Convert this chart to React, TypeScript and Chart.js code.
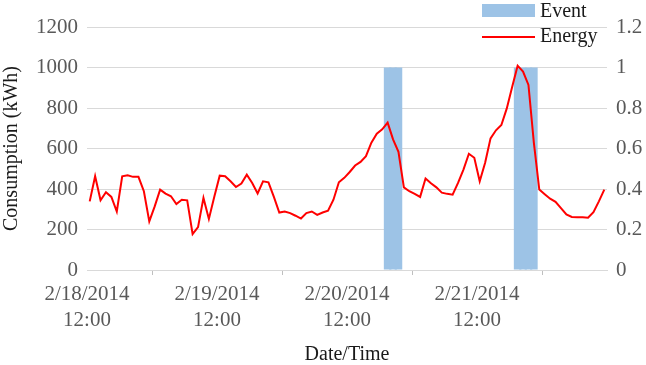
import React, { useEffect, useRef } from 'react';
import { Chart, registerables } from 'chart.js';

Chart.register(...registerables);

// Hourly energy consumption (kWh), starting 2/18/2014 12:00
const energy = [
  339, 463, 344, 384, 361, 289, 463, 468, 460, 460, 389, 240,
  314, 397, 377, 364, 326, 347, 344, 177, 212, 356, 252, 362,
  466, 463, 438, 410, 427, 471, 430, 378, 438, 433, 361, 284,
  289, 281, 268, 254, 281, 289, 272, 284, 293, 347, 433, 455,
  484, 516, 534, 562, 629, 673, 695, 728, 645, 584, 408, 389,
  376, 361, 452, 428, 408, 382, 376, 372, 430, 496, 574, 554,
  438, 530, 650, 690, 716, 798, 905, 1009, 980, 914, 628, 397,
  374, 352, 337, 306, 274, 262, 260, 260, 258, 286, 339, 397,
];

// Hours (index into energy) flagged as demand-response events
const eventHours = [55, 56, 57, 79, 80, 81, 82];
const eventLevel = 1;

const seriesNames = ['Event', 'Energy'];
const dayTickLabels = [
  ['2/18/2014', '12:00'],
  ['2/19/2014', '12:00'],
  ['2/20/2014', '12:00'],
  ['2/21/2014', '12:00'],
];
const hoursPerDay = 24;
const leftTitle = 'Consumption (kWh)';
const bottomTitle = 'Date/Time';

const categories = energy.map((_, i) => {
  const day = 18 + Math.floor((12 + i) / 24);
  const hour = (12 + i) % 24;
  return `2/${day}/2014 ${hour}:00`;
});
const eventData = categories.map((_, i) => (eventHours.includes(i) ? eventLevel : null));

const FONT = '"Liberation Serif", "Times New Roman", serif';
const lineColor = '#FF0000';
const eventColor = '#9DC3E6';
const gridColor = '#D9D9D9';
const tickColor = '#595959';
const titleColor = '#1A1A1A';

const legendPlugin = {
  id: 'customLegend',
  afterDraw(chart: any) {
    const ctx = chart.ctx;
    ctx.save();
    ctx.fillStyle = eventColor;
    ctx.fillRect(482, 4, 53, 13);
    ctx.strokeStyle = lineColor;
    ctx.lineWidth = 2;
    ctx.beginPath();
    ctx.moveTo(482, 37);
    ctx.lineTo(535, 37);
    ctx.stroke();
    ctx.fillStyle = titleColor;
    ctx.font = `20px ${FONT}`;
    ctx.textBaseline = 'middle';
    ctx.textAlign = 'left';
    ctx.fillText(seriesNames[0], 540, 12);
    ctx.fillText(seriesNames[1], 540, 37);
    ctx.restore();
  },
};

export default function App() {
  const ref = useRef<HTMLCanvasElement>(null);

  useEffect(() => {
    if (!ref.current) return;
    const chart = new Chart(ref.current, {
      type: 'bar',
      data: {
        labels: categories,
        datasets: [
          {
            type: 'line',
            label: seriesNames[1],
            data: energy,
            borderColor: lineColor,
            backgroundColor: lineColor,
            borderWidth: 2,
            pointRadius: 0,
            tension: 0,
            yAxisID: 'y',
            xAxisID: 'x',
            order: 0,
          } as any,
          {
            type: 'bar',
            label: seriesNames[0],
            data: eventData,
            backgroundColor: eventColor,
            borderWidth: 0,
            barPercentage: 1.4,
            categoryPercentage: 1,
            yAxisID: 'y1',
            xAxisID: 'x',
            order: 1,
          } as any,
        ],
      },
      options: {
        responsive: false,
        animation: false,
        layout: { padding: { top: 27, left: 0, right: 0, bottom: 0 } },
        plugins: {
          legend: { display: false },
          tooltip: { enabled: false },
        },
        scales: {
          x: {
            type: 'category',
            display: false,
            offset: true,
          },
          xt: {
            type: 'linear',
            position: 'bottom',
            min: 0,
            max: energy.length,
            offset: false,
            afterFit: (s: any) => {
              s.height = 95;
            },
            ticks: {
              stepSize: hoursPerDay,
              autoSkip: false,
              maxRotation: 0,
              padding: 6,
              color: tickColor,
              font: { family: FONT, size: 21, lineHeight: 26 / 21 },
              callback: (v: any) => dayTickLabels[Math.round(v / hoursPerDay)] ?? '',
            },
            grid: {
              drawOnChartArea: false,
              drawTicks: true,
              tickLength: 5,
              color: '#BFBFBF',
            },
            border: { display: true, color: gridColor },
            title: {
              display: true,
              text: bottomTitle,
              color: titleColor,
              padding: 0,
              font: { family: FONT, size: 20, lineHeight: 1 },
            },
          },
          y: {
            position: 'left',
            min: 0,
            max: 1200,
            afterFit: (s: any) => {
              s.width = 87;
            },
            ticks: {
              stepSize: 200,
              padding: 9,
              color: tickColor,
              font: { family: FONT, size: 21 },
              callback: (v: any) => String(v),
            },
            grid: { color: gridColor, drawTicks: false, lineWidth: 1 },
            border: { display: false },
            title: {
              display: true,
              text: leftTitle,
              color: titleColor,
              padding: 2,
              font: { family: FONT, size: 20, lineHeight: 1 },
            },
          },
          y1: {
            position: 'right',
            min: 0,
            max: 1.2,
            afterFit: (s: any) => {
              s.width = 39;
            },
            ticks: {
              stepSize: 0.2,
              padding: 9,
              color: tickColor,
              font: { family: FONT, size: 21 },
              callback: (v: any) => String(Number(Number(v).toFixed(1))),
            },
            grid: { drawOnChartArea: false, drawTicks: false },
            border: { display: false },
          },
        },
      } as any,
      plugins: [legendPlugin],
    });
    return () => chart.destroy();
  }, []);

  return (
    <div style={{ position: 'absolute', left: 0, top: 0, width: 646, height: 365, background: '#fff' }}>
      <canvas ref={ref} width={646} height={365} style={{ width: 646, height: 365, display: 'block' }} />
    </div>
  );
}
